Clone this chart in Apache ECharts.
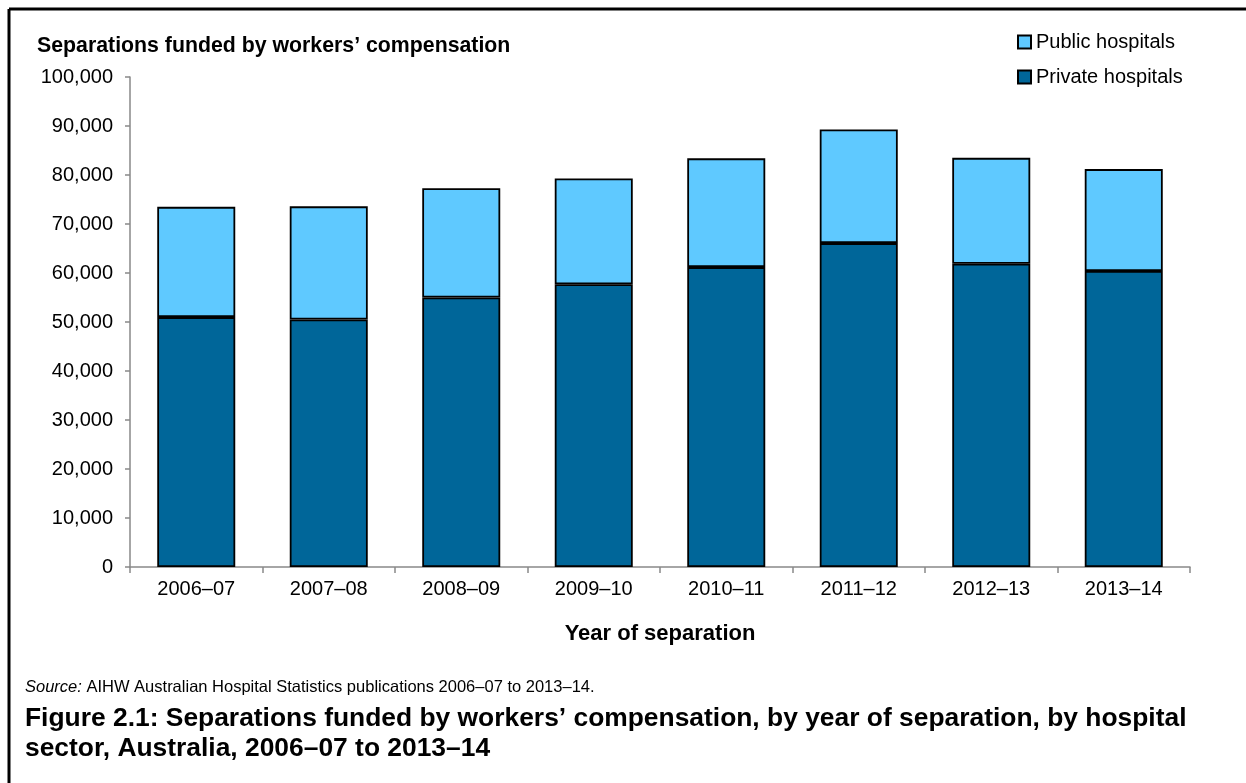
<!DOCTYPE html>
<html>
<head>
<meta charset="utf-8">
<script src="https://cdn.jsdelivr.net/npm/echarts@6/dist/echarts.min.js"></script>
<style>
  html, body { margin: 0; padding: 0; background: #fff; }
  #chart { width: 1246px; height: 783px; }
</style>
</head>
<body>
<div id="chart"></div>
<script>
// Separations funded by workers' compensation, by hospital sector
const years = ['2006–07', '2007–08', '2008–09', '2009–10', '2010–11', '2011–12', '2012–13', '2013–14'];
const privateHospitals = [51000, 50500, 55000, 57700, 61200, 66100, 61900, 60400];
const publicHospitals = [22500, 23100, 22300, 21600, 22200, 23200, 21600, 20800];
const yTicks = { min: 0, max: 100000, interval: 10000 };

const FONT = '"Liberation Sans", Arial, sans-serif';
const axisGrey = '#898989';

const chart = echarts.init(document.getElementById('chart'), null, { renderer: 'canvas' });

chart.setOption({
  backgroundColor: '#ffffff',
  animation: false,
  textStyle: { fontFamily: FONT },
  title: {
    text: 'Separations funded by workers’ compensation',
    left: 32, top: 31,
    textStyle: { fontFamily: FONT, fontSize: 21.3, fontWeight: 'bold', color: '#000' }
  },
  legend: {
    orient: 'vertical',
    left: 1012, top: 27,
    itemWidth: 13, itemHeight: 13, itemGap: 15,
    icon: 'rect',
    data: ['Public hospitals', 'Private hospitals'],
    textStyle: { fontFamily: FONT, fontSize: 20, color: '#000' }
  },
  grid: { left: 130, right: 56, top: 77, bottom: 216, containLabel: false },
  xAxis: {
    type: 'category',
    data: years,
    axisLine: { lineStyle: { color: axisGrey, width: 1.5 } },
    axisTick: { show: true, length: 6, alignWithLabel: false, lineStyle: { color: axisGrey, width: 1.5 } },
    axisLabel: { fontFamily: FONT, fontSize: 20, color: '#000', margin: 12 },
    name: 'Year of separation',
    nameLocation: 'middle',
    nameGap: 56,
    nameTextStyle: { fontFamily: FONT, fontSize: 22, fontWeight: 'bold', color: '#000' }
  },
  yAxis: {
    type: 'value',
    min: yTicks.min, max: yTicks.max, interval: yTicks.interval,
    axisLine: { show: true, lineStyle: { color: axisGrey, width: 1.5 } },
    axisTick: { show: true, length: 5, lineStyle: { color: axisGrey, width: 1.5 } },
    splitLine: { show: false },
    axisLabel: {
      fontFamily: FONT, fontSize: 20, color: '#000', margin: 17,
      formatter: v => v.toLocaleString('en-US')
    }
  },
  series: [
    {
      name: 'Private hospitals',
      type: 'bar',
      stack: 'total',
      data: privateHospitals,
      barWidth: 78,
      itemStyle: { color: '#006699', borderColor: '#000', borderWidth: 1.8 }
    },
    {
      name: 'Public hospitals',
      type: 'bar',
      stack: 'total',
      data: publicHospitals,
      barWidth: 78,
      itemStyle: { color: '#5FC9FF', borderColor: '#000', borderWidth: 1.8 }
    }
  ],
  graphic: [
    // frame along the top and left edges
    { type: 'line', shape: { x1: 9, y1: 9, x2: 1246, y2: 9 }, style: { stroke: '#000', lineWidth: 3 } },
    { type: 'line', shape: { x1: 9, y1: 9, x2: 9, y2: 783 }, style: { stroke: '#000', lineWidth: 3 } },
    {
      type: 'text', left: 25, top: 679,
      style: {
        text: '{i|Source:} AIHW Australian Hospital Statistics publications 2006–07 to 2013–14.',
        rich: {
          i: { fontFamily: FONT, fontSize: 16.5, fontStyle: 'italic', fill: '#000' }
        },
        font: '16.5px ' + FONT, fill: '#000'
      }
    },
    {
      type: 'text', left: 25, top: 704,
      style: {
        text: 'Figure 2.1: Separations funded by workers’ compensation, by year of separation, by hospital\nsector, Australia, 2006–07 to 2013–14',
        font: 'bold 26.4px ' + FONT, fill: '#000', lineHeight: 30
      }
    }
  ]
});
</script>
</body>
</html>
